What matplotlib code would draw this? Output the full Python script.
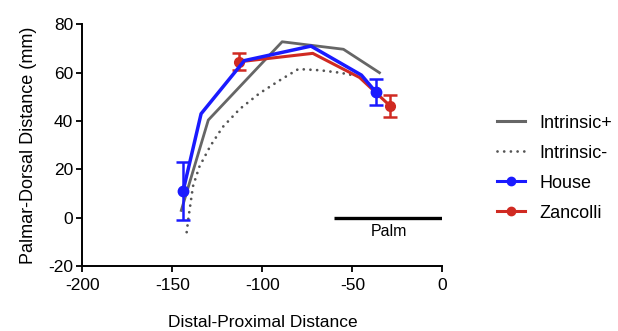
import matplotlib
matplotlib.use("Agg")
import matplotlib.pyplot as plt
from matplotlib.lines import Line2D

plt.rcParams['font.family'] = ['Liberation Sans', 'DejaVu Sans']
plt.rcParams['axes.unicode_minus'] = False

# Data
intrinsic_plus_x = [-145, -130, -89, -55, -35]
intrinsic_plus_y = [3, 40.4, 72.8, 69.7, 60]

intrinsic_minus_x = [-142, -141, -138.5, -135, -129, -122, -112.5, -101.5, -90, -80, -68, -57, -50]
intrinsic_minus_y = [-6, 0, 13, 21, 29.5, 37.5, 45, 51.5, 57, 61.5, 61, 60, 59]

house_x = [-144, -134, -110, -73, -45, -37]
house_y = [11, 43, 65, 71, 59, 52]
house_pts_x = [-144, -37]
house_pts_y = [11, 52]
house_err = [12, 5.2]

zancolli_x = [-113, -72, -46, -29]
zancolli_y = [64.5, 68, 58, 46.2]
zancolli_pts_x = [-113, -29]
zancolli_pts_y = [64.5, 46.2]
zancolli_err = [3.5, 4.6]

palm_x = [-60, 0]
palm_y = [0, 0]

xticks = [-200, -150, -100, -50, 0]
yticks = [-20, 0, 20, 40, 60, 80]

GRAY = '#666666'
DOT = '#555555'
BLUE = '#1a1aff'
RED = '#d02a22'

fig = plt.figure(figsize=(6.18, 3.31), dpi=100)
ax = fig.add_axes([0.133, 0.1964, 0.583, 0.730])

ax.plot(intrinsic_minus_x, intrinsic_minus_y, color=DOT, lw=2.0,
        linestyle=(0, (0.01, 2.4)), dash_capstyle='round', zorder=2)
ax.plot(intrinsic_plus_x, intrinsic_plus_y, color=GRAY, lw=2.0, zorder=3)
ax.plot(zancolli_x, zancolli_y, color=RED, lw=2.2, zorder=4)
ax.errorbar(zancolli_pts_x, zancolli_pts_y, yerr=zancolli_err, fmt='o', color=RED,
            ms=7, elinewidth=1.8, capsize=5, capthick=1.8, zorder=4)
ax.plot(house_x, house_y, color=BLUE, lw=2.5, zorder=5)
ax.errorbar(house_pts_x, house_pts_y, yerr=house_err, fmt='o', color=BLUE,
            ms=7.5, elinewidth=1.8, capsize=5, capthick=1.8, zorder=5)

ax.plot(palm_x, palm_y, color='black', lw=2.4, solid_capstyle='butt', zorder=6)
ax.text(-30, -2.5, 'Palm', ha='center', va='top', fontsize=11.5)

ax.set_xlim(-200, 0)
ax.set_ylim(-20, 80)
ax.set_xticks(xticks)
ax.set_yticks(yticks)
ax.tick_params(axis='x', labelsize=12.5, width=1.3, length=4.5, pad=4, direction='out', color='black')
ax.tick_params(axis='y', labelsize=12.5, width=1.3, length=4.5, pad=2, direction='out', color='black')
for s in ['top', 'right']:
    ax.spines[s].set_visible(False)
for s in ['left', 'bottom']:
    ax.spines[s].set_linewidth(1.4)
    ax.spines[s].set_color('black')

ax.set_xlabel('Distal-Proximal Distance', fontsize=12.5, labelpad=16)
ax.set_ylabel('Palmar-Dorsal Distance (mm)', fontsize=13, labelpad=8)

handles = [
    Line2D([], [], color=GRAY, lw=2.2),
    Line2D([], [], color=DOT, lw=2.0, linestyle=(0, (0.01, 2.4)), dash_capstyle='round'),
    Line2D([], [], color=BLUE, lw=2.2, marker='o', ms=6),
    Line2D([], [], color=RED, lw=2.2, marker='o', ms=6),
]
labels = ['Intrinsic+', 'Intrinsic-', 'House', 'Zancolli']
fig.legend(handles, labels, loc='upper left', bbox_to_anchor=(0.793, 0.675),
           frameon=False, fontsize=13, handlelength=1.55, handletextpad=0.8,
           labelspacing=0.72, borderaxespad=0)

fig.savefig('out.png', dpi=100)
